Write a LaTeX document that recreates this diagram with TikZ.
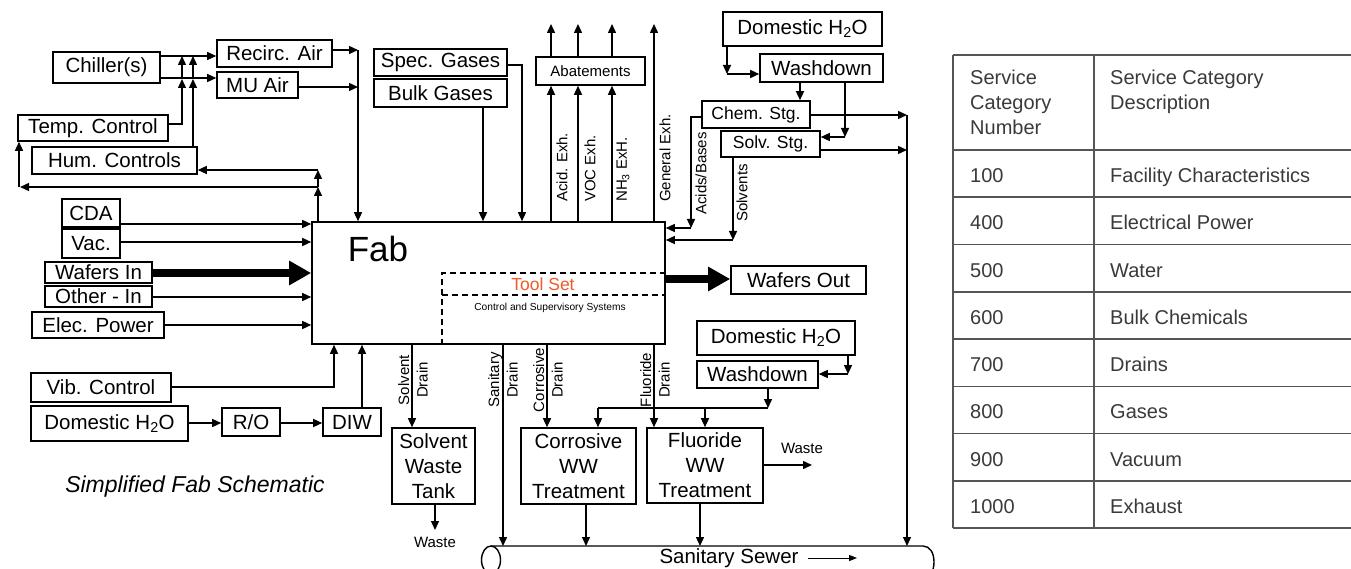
\documentclass[tikz,border=0pt]{standalone}
\usepackage{fontspec}
\setmainfont{Liberation Sans}
\usetikzlibrary{arrows.meta,calc}
\definecolor{toolred}{HTML}{F15A29}
\definecolor{tblline}{HTML}{555555}
\definecolor{tbltext}{HTML}{3A3A3A}
\newcommand{\bx}[7][]{\node[box,#1,minimum width={(#5-#3)*1pt},minimum height={(#6-#4)*1pt}] (#2) at ({(#3+#5)/2},{(#4+#6)/2}) {#7};}
\tikzset{
  box/.style={draw, line width=1.6pt, inner sep=0pt, align=center, font=\fontsize{20.5}{25}\selectfont},
  small/.style={font=\fontsize{17.5}{21}\selectfont},
  tiny/.style={font=\fontsize{15}{18}\selectfont},
  arr/.style={line width=1.4pt, -{Triangle[length=9pt,width=8pt]}},
  ln/.style={line width=1.4pt},
  fat/.style={line width=8.5pt, -{Triangle[length=22pt,width=23pt]}},
  rl/.style={rotate=90, font=\fontsize{15}{18.5}\selectfont, inner sep=0pt, align=center},
  tbl/.style={draw=tblline, line width=1.5pt},
  tt/.style={text=tbltext, inner sep=0pt, font=\fontsize{20}{24}\selectfont},
  dsh/.style={line width=1.3pt, dash pattern=on 6pt off 4pt}
}
\begin{document}
\begin{tikzpicture}[x=1pt,y=-1pt]
\useasboundingbox (0,0) rectangle (1351,569);
\clip (0,0) rectangle (1351,569);
\fill[white] (0,0) rectangle (1351,569);

% ---------- boxes ----------
\bx{chiller}{53}{52}{160}{83}{Chiller(s)}
\bx{recirc}{217}{40}{332}{67}{Recirc. Air}
\bx{mu}{217}{72}{298}{98}{MU Air}
\bx{temp}{18}{115}{168}{141}{Temp. Control}
\bx{hum}{32}{147}{197}{174}{Hum. Controls}
\bx{cda}{62}{199}{120}{227}{CDA}
\bx{vac}{62}{229}{120}{258}{Vac.}
\bx{wafin}{45}{262}{152}{283}{Wafers In}
\bx{other}{45}{286}{152}{307}{Other - In}
\bx{elec}{32}{312}{164}{338}{Elec. Power}
\bx{vib}{31}{373}{171}{402}{Vib. Control}
\bx{domA}{31}{406}{188}{441}{Domestic H\textsubscript{2}O}
\bx{ro}{222}{408}{280}{436}{R/O}
\bx{diw}{323}{408}{381}{436}{DIW}
\bx{fab}{312}{222}{665}{344}{}
\bx{spec}{374}{49}{507}{76}{Spec. Gases}
\bx{bulk}{374}{79}{507}{107}{Bulk Gases}
\bx[tiny]{abat}{536}{57}{645}{85}{Abatements}
\bx{domB}{723}{12}{882}{46}{Domestic H\textsubscript{2}O}
\bx{washA}{760}{54}{883}{82}{Washdown}
\bx[small]{chem}{702}{101}{810}{128}{Chem. Stg.}
\bx[small]{solv}{721}{131}{820}{157}{Solv. Stg.}
\bx{wafout}{731}{266}{866}{294}{Wafers Out}
\bx{swt}{392}{428}{475}{504}{Solvent\\Waste\\Tank}
\bx{cww}{521}{428}{636}{504}{Corrosive\\WW\\Treatment}
\bx{fww}{647}{428}{763}{503}{Fluoride\\WW\\Treatment}
\bx{domC}{697}{321}{855}{355}{Domestic H\textsubscript{2}O}
\bx{washB}{697}{361}{818}{388}{Washdown}

% ---------- Fab contents ----------
\node[inner sep=0pt, font=\fontsize{35}{40}\selectfont] (fabtxt) at (378,249) {Fab};
\draw[dsh] (fab.east |- 0,273) -- (442,273) -- (442,0 |- fab.south);
\draw[dsh] (442,295) -- (fab.east |- 0,295);
\node[inner sep=0pt, text=toolred, font=\fontsize{17.5}{20}\selectfont] (toolset) at (543,284) {Tool Set};
\node[inner sep=0pt, font=\fontsize{10.2}{12}\selectfont] (css) at (550,308) {Control and Supervisory Systems};

% ---------- air handling ----------
\draw[arr] (chiller.east |- 0,56) -- (recirc.west |- 0,56);
\draw[arr] (chiller.east |- 0,78) -- (mu.west |- 0,78);
\draw[arr] (temp.east |- 0,124) -| (182,79);
\draw[arr] (182,79) -- (182,56);
\draw[arr] (193,0 |- hum.north) -- (193,79);
\draw[arr] (193,79) -- (193,56);
\draw[arr] (recirc.east |- 0,50) -- (358,50);
\draw[arr] (mu.east |- 0,87) -- (358,87);
\draw[arr] (358,50) -- (358,0 |- fab.north);
\draw[arr] (318,0 |- fab.north) -- (318,187);
\draw[arr] (318,187) -- (318,170);
\draw[arr] (318,170) -- (hum.east |- 0,170);
\draw[arr] (318,187) -- (20,187);
\draw[arr] (19,187) -- (19,0 |- temp.south);

% ---------- left inputs ----------
\draw[arr] (cda.east |- 0,224) -- (fab.west |- 0,224);
\draw[arr] (vac.east |- 0,242) -- (fab.west |- 0,242);
\draw[fat] (wafin.east |- 0,273) -- (fab.west |- 0,273);
\draw[arr] (other.east |- 0,297) -- (fab.west |- 0,297);
\draw[arr] (elec.east |- 0,325) -- (fab.west |- 0,325);

% ---------- bottom-left inputs ----------
\draw[arr] (vib.east |- 0,387) -| (334,0 |- fab.south);
\draw[arr] (domA.east |- 0,423) -- (ro.west |- 0,423);
\draw[arr] (ro.east |- 0,423) -- (diw.west |- 0,423);
\draw[arr] (362,0 |- diw.north) -- (362,0 |- fab.south);

% ---------- gases ----------
\draw[arr] (483,0 |- bulk.south) -- (483,0 |- fab.north);
\draw[arr] (spec.east |- 0,65) -| (522,0 |- fab.north);

% ---------- exhaust ----------
\foreach \xx in {551,578,612}{
  \draw[arr] (\xx,0 |- fab.north) -- (\xx,0 |- abat.south);
  \draw[arr] (\xx,0 |- abat.north) -- (\xx,24);
}
\draw[arr] (654,0 |- fab.north) -- (654,24);
\node[rl, anchor=west] (lacid) at (562,202) {Acid. Exh.};
\node[rl, anchor=west] (lvoc) at (590,202) {VOC Exh.};
\node[rl, anchor=west] (lnh) at (623,202) {NH\textsubscript{3} ExH.};
\node[rl, anchor=west] (lgen) at (665,202) {General Exh.};

% ---------- chemicals ----------
\draw[arr] (727,0 |- domB.south) -- (727,74);
\draw[arr] (727,74) -- (washA.west |- 0,74);
\draw[arr] (800,0 |- washA.south) -- (800,0 |- chem.north);
\draw[arr] (845,0 |- washA.south) -- (845,137);
\draw[arr] (845,137) -- (solv.east |- 0,137);
\draw[arr] (chem.east |- 0,115) -- (907,115);
\draw[arr] (solv.east |- 0,150) -- (907,150);
\coordinate (sewer) at (700,546);
\draw[arr] (907,115) -- (907,0 |- sewer);
\draw[arr] (chem.west |- 0,117) -| (691,228);
\draw[arr] (691,228) -- (fab.east |- 0,228);
\draw[arr] (733,0 |- solv.south) -- (733,240);
\draw[arr] (733,240) -- (fab.east |- 0,240);
\node[rl, anchor=west] (lacb) at (701,215) {Acids/Bases};
\node[rl, anchor=west] (lsolv) at (742,222) {Solvents};

% ---------- wafers out ----------
\draw[fat] (fab.east |- 0,279) -- (wafout.west |- 0,279);

% ---------- drains ----------
\draw[arr] (412,0 |- fab.south) -- (412,0 |- swt.north);
\draw[arr] (503,0 |- fab.south) -- (503,0 |- sewer);
\draw[arr] (547,0 |- fab.south) -- (547,0 |- cww.north);
\draw[arr] (654,0 |- fab.south) -- (654,0 |- fww.north);
\node[rl] (dsol) at (413,380) {Solvent\\Drain};
\node[rl] (dsan) at (503,380) {Sanitary\\Drain};
\node[rl] (dcor) at (548,380) {Corrosive\\Drain};
\node[rl] (dflu) at (655,380) {Fluoride\\Drain};

\coordinate (wasteA) at (435,530);
\draw[arr] (435,0 |- swt.south) -- (wasteA);
\node[tiny, inner sep=0pt] (wtA) at (435,542) {Waste};
\draw[arr] (586,0 |- cww.south) -- (586,0 |- sewer);
\draw[arr] (700,0 |- fww.south) -- (700,0 |- sewer);
\coordinate (wasteB) at (812,465);
\draw[arr] (fww.east |- 0,465) -- (wasteB);
\node[tiny, inner sep=0pt] (wtB) at (802,448) {Waste};

\draw[arr] (848,0 |- domC.south) -- (848,374);
\draw[arr] (848,374) -- (washB.east |- 0,374);
\draw[arr] (768,0 |- washB.south) -- (768,408);
\draw[ln] (768,408) -- (598,408);
\draw[arr] (598,408) -- (598,0 |- cww.north);
\draw[arr] (705,408) -- (705,0 |- fww.north);

% ---------- sewer pipe ----------
\draw[ln] (491,546) -- (923,546) .. controls (930,546) and (934,553) .. (934,562) .. controls (934,571) and (930,578) .. (923,578) -- (491,578);
\draw[ln] (491,560) ellipse [x radius=9.5pt, y radius=14pt];
\node[inner sep=0pt, font=\fontsize{20.5}{24}\selectfont] (sst) at (729,558) {Sanitary Sewer};
\coordinate (sewarr) at (857,558);
\draw[line width=1pt, -{Triangle[length=8pt,width=6pt]}] ([xshift=9pt]sst.east) -- (sewarr);

% ---------- caption ----------
\node[inner sep=0pt, font=\itshape\fontsize{23}{27}\selectfont] (cap) at (195,487) {Simplified Fab Schematic};

% ---------- table ----------
\foreach \yy in {55,150,197.25,244.5,291.75,339,386.25,433.5,480.75,528}
  \draw[tbl] (953,\yy) -- (1360,\yy);
\draw[tbl] (953,55) -- (953,528);
\draw[tbl] (1094,55) -- (1094,528);
\node[tt, anchor=base west] (h1a) at (970,85) {Service};
\node[tt, anchor=base west] (h1b) at (970,110) {Category};
\node[tt, anchor=base west] (h1c) at (970,135) {Number};
\node[tt, anchor=base west] (h2a) at (1110,85) {Service Category};
\node[tt, anchor=base west] (h2b) at (1110,110) {Description};
\foreach \cn/\cd [count=\i] in {100/Facility Characteristics,400/Electrical Power,500/Water,600/Bulk Chemicals,700/Drains,800/Gases,900/Vacuum,1000/Exhaust}{
  \node[tt, anchor=base west] (n\i) at (970,{150+(\i-0.5)*47.25+9}) {\cn};
  \node[tt, anchor=base west] (d\i) at (1110,{150+(\i-0.5)*47.25+9}) {\cd};
}
\end{tikzpicture}
\end{document}
